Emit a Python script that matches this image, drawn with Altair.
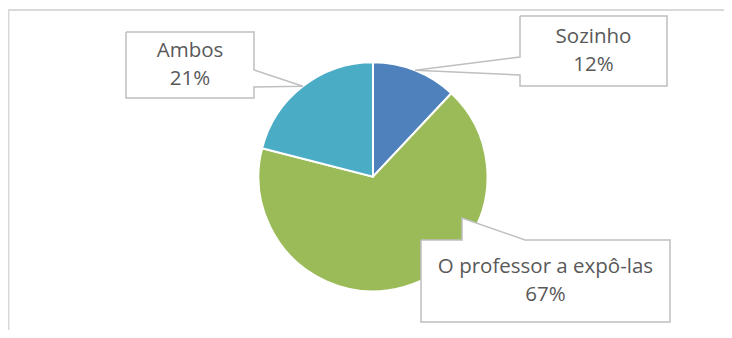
import math
import altair as alt
import pandas as pd

# ---- data ----
categories = ["Sozinho", "O professor a expô-las", "Ambos"]
values = [12, 67, 21]
labels = ["12%", "67%", "21%"]
colors = ["#4F81BD", "#9BBB59", "#4BACC6"]

# ---- layout (plot-area pixels) ----
W, H = 716, 322
CX, CY, R = 365.0, 168.7, 114.5
FONT = "Open Sans"
FONT_SIZE = 20.5
LINE_H = 28.5
TEXT_COLOR = "#595959"
BOX_STROKE = "#BFBFBF"
FRAME = "#D9D9D9"

callout_layout = {
    "Sozinho": dict(box=(512, 659, 8, 78), side="left", span=(49, 67)),
    "O professor a expô-las": dict(box=(413, 662, 232, 314), side="top", span=(454, 517), tip=(454, 210)),
    "Ambos": dict(box=(118, 246, 24, 90), side="right", span=(62, 79)),
}

pie_df = pd.DataFrame({
    "category": categories,
    "value": values,
    "idx": list(range(len(categories))),
})

# tips at mid-angle of each slice on the pie edge (unless given)
total = sum(values)
cum = 0
tips = {}
for c, v in zip(categories, values):
    mid = (cum + v / 2) / total * 2 * math.pi
    tips[c] = (CX + R * math.sin(mid), CY - R * math.cos(mid))
    cum += v

rows = []
text_rows = []
for c, lab in zip(categories, labels):
    L = callout_layout[c]
    x0, x1, y0, y1 = L["box"]
    s0, s1 = L["span"]
    tip = L.get("tip", tips[c])
    if L["side"] == "right":
        pts = [(x0, y0), (x1, y0), (x1, s0), tip, (x1, s1), (x1, y1), (x0, y1), (x0, y0)]
    elif L["side"] == "left":
        pts = [(x0, y0), (x1, y0), (x1, y1), (x0, y1), (x0, s1), tip, (x0, s0), (x0, y0)]
    else:  # top
        pts = [(x0, y0), (s0, y0), tip, (s1, y0), (x1, y0), (x1, y1), (x0, y1), (x0, y0)]
    for k, (px, py) in enumerate(pts):
        rows.append({"callout": c, "k": k, "x": px, "y": py})
    text_rows.append({"callout": c, "x": (x0 + x1) / 2, "y": (y0 + y1) / 2 - LINE_H / 2,
                      "text": c + "\n" + lab})

poly_df = pd.DataFrame(rows)
text_df = pd.DataFrame(text_rows)

xs = alt.Scale(domain=[0, W], nice=False, zero=False)
ys = alt.Scale(domain=[0, H], nice=False, zero=False, reverse=True)

pie = alt.Chart(pie_df).mark_arc(radius=R, stroke="white", strokeWidth=2).encode(
    theta=alt.Theta("value:Q", stack=True),
    color=alt.Color("category:N", scale=alt.Scale(domain=categories, range=colors), legend=None),
    order=alt.Order("idx:Q"),
    x=alt.value(CX),
    y=alt.value(CY),
)

boxes = alt.Chart(poly_df).mark_line(
    fill="white", stroke=BOX_STROKE, strokeWidth=1.5, strokeJoin="miter"
).encode(
    x=alt.X("x:Q", scale=xs, axis=None),
    y=alt.Y("y:Q", scale=ys, axis=None),
    detail="callout:N",
    order=alt.Order("k:Q"),
)

texts = alt.Chart(text_df).mark_text(
    font=FONT, fontSize=FONT_SIZE, color=TEXT_COLOR, lineBreak="\n",
    lineHeight=LINE_H, align="center", baseline="middle"
).encode(
    x=alt.X("x:Q", scale=xs, axis=None),
    y=alt.Y("y:Q", scale=ys, axis=None),
    text="text:N",
)

one = pd.DataFrame({"a": [0]})
top_rule = alt.Chart(one).mark_rule(color=FRAME, strokeWidth=2).encode(
    x=alt.value(0), x2=alt.value(W), y=alt.value(2)
)
left_rule = alt.Chart(one).mark_rule(color=FRAME, strokeWidth=2).encode(
    x=alt.value(0.5), y=alt.value(1), y2=alt.value(H)
)

chart = alt.layer(top_rule, left_rule, pie, boxes, texts).properties(
    width=W, height=H, autosize=alt.AutoSizeParams(type="none"), padding=0
).configure_view(stroke=None)

chart.save("out.html", embed_options={"renderer": "svg", "actions": False})
